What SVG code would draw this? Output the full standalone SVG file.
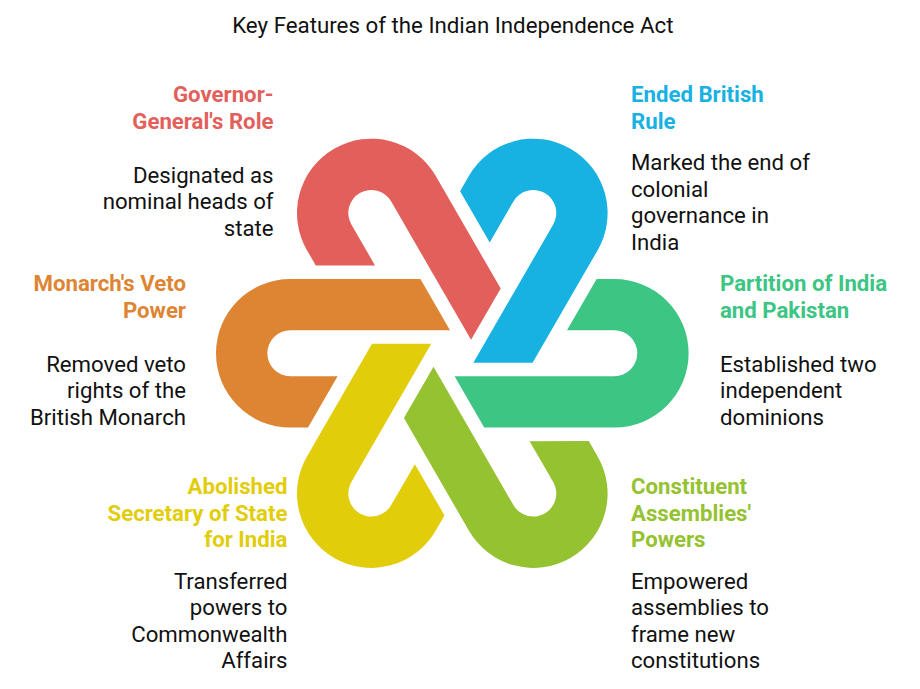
<svg xmlns="http://www.w3.org/2000/svg" width="920" height="689" viewBox="0 0 920 689">
<style>
text{font-family:Roboto,"Liberation Sans",sans-serif;font-size:22.2px}
.t{fill:#111}
.h{font-weight:700}
.e{text-anchor:end}
</style>
<defs>
<path id="hp" d="M290.3,279 L420.4,279 L450,330.3 L290.3,330.3 A23,23 0 0 0 290.3,376.3 L337.6,376.3 L308,427.6 L290.3,427.6 A74.3,74.3 0 0 1 290.3,279 Z"/>
</defs>
<rect width="920" height="689" fill="#fff"/>
<text x="452.8" y="33" text-anchor="middle" class="t" style="font-size:22.3px">Key Features of the Indian Independence Act</text>
<g id="orange">
<use href="#hp" fill="#DE8533"/>
<text class="h e" fill="#DE8533" x="186" y="291">Monarch's Veto</text>
<text class="h e" fill="#DE8533" x="186" y="318">Power</text>
<text class="t e" x="186" y="372">Removed veto</text>
<text class="t e" x="186" y="398">rights of the</text>
<text class="t e" x="186" y="424.5">British Monarch</text>
</g>
<g id="red">
<use href="#hp" fill="#E35F5B" transform="rotate(60 452.3 353.3)"/>
<text class="h e" fill="#E35F5B" x="273.5" y="102">Governor-</text>
<text class="h e" fill="#E35F5B" x="273.5" y="128.5">General's Role</text>
<text class="t e" x="273.5" y="182.5">Designated as</text>
<text class="t e" x="273.5" y="209">nominal heads of</text>
<text class="t e" x="273.5" y="235.5">state</text>
</g>
<g id="blue">
<use href="#hp" fill="#17B1E2" transform="rotate(120 452.3 353.3)"/>
<text class="h" fill="#17B1E2" x="631" y="102">Ended British</text>
<text class="h" fill="#17B1E2" x="631" y="128.5">Rule</text>
<text class="t" x="631" y="170">Marked the end of</text>
<text class="t" x="631" y="196.5">colonial</text>
<text class="t" x="631" y="223">governance in</text>
<text class="t" x="631" y="249.5">India</text>
</g>
<g id="green">
<use href="#hp" fill="#3CC583" transform="rotate(180 452.3 353.3)"/>
<text class="h" fill="#3CC583" x="720" y="291">Partition of India</text>
<text class="h" fill="#3CC583" x="720" y="318">and Pakistan</text>
<text class="t" x="720" y="372">Established two</text>
<text class="t" x="720" y="398">independent</text>
<text class="t" x="720" y="424.5">dominions</text>
</g>
<g id="lime">
<use href="#hp" fill="#95C231" transform="rotate(240 452.3 353.3)"/>
<text class="h" fill="#95C231" x="631" y="494">Constituent</text>
<text class="h" fill="#95C231" x="631" y="520.5">Assemblies'</text>
<text class="h" fill="#95C231" x="631" y="547">Powers</text>
<text class="t" x="631" y="588.5">Empowered</text>
<text class="t" x="631" y="615">assemblies to</text>
<text class="t" x="631" y="641.5">frame new</text>
<text class="t" x="631" y="668">constitutions</text>
</g>
<g id="yellow">
<use href="#hp" fill="#E2CD0B" transform="rotate(300 452.3 353.3)"/>
<text class="h e" fill="#E2CD0B" x="287.5" y="494">Abolished</text>
<text class="h e" fill="#E2CD0B" x="287.5" y="520.5">Secretary of State</text>
<text class="h e" fill="#E2CD0B" x="287.5" y="547">for India</text>
<text class="t e" x="287.5" y="588.5">Transferred</text>
<text class="t e" x="287.5" y="615">powers to</text>
<text class="t e" x="287.5" y="641.5">Commonwealth</text>
<text class="t e" x="287.5" y="668">Affairs</text>
</g>
<g id="connectors"></g>
</svg>
